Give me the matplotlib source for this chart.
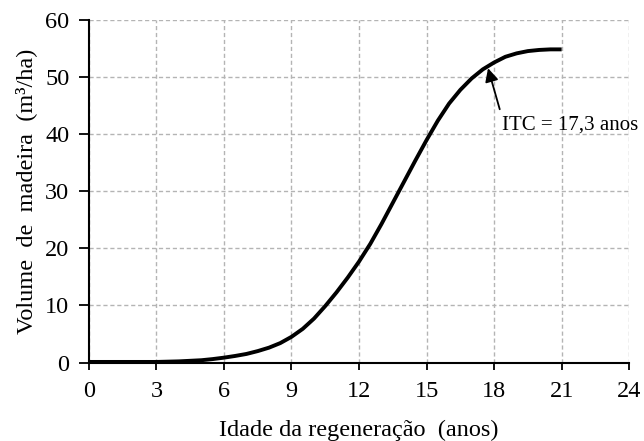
import matplotlib.pyplot as plt

plt.rcParams['font.family'] = ['Liberation Serif', 'DejaVu Serif']

# idade (anos) e volume (m3/ha) da regeneração
idade = [0, 1, 2, 3, 4, 5, 5.5, 6, 6.5, 7, 7.5, 8, 8.5, 9, 9.5, 10, 10.5, 11, 11.5,
         12, 12.5, 13, 13.5, 14, 14.5, 15, 15.5, 16, 16.5, 17, 17.5, 18, 18.5,
         19, 19.5, 20, 20.5, 21]
volume = [0.1, 0.1, 0.1, 0.1, 0.2, 0.4, 0.6, 0.85, 1.15, 1.5, 2.0, 2.6, 3.4, 4.5,
          5.9, 7.7, 9.9, 12.3, 14.9, 17.7, 20.8, 24.3, 28.0, 31.7, 35.4, 39.0,
          42.4, 45.4, 47.8, 49.8, 51.4, 52.6, 53.6, 54.2, 54.6, 54.8, 54.9, 54.9]

# ponto da idade técnica de corte
itc_x, itc_y = 17.73, 51.6
itc_label = "ITC = 17,3 anos"

x_ticks = [0, 3, 6, 9, 12, 15, 18, 21, 24]
y_ticks = [0, 10, 20, 30, 40, 50, 60]

fig = plt.figure(figsize=(6.44, 4.41), dpi=100)
ax = fig.add_axes([0.138, 0.178, 0.839, 0.776])

ax.plot(idade, volume, color='black', lw=2.8, solid_capstyle='butt',
        solid_joinstyle='round', zorder=3)

ax.annotate('', xy=(itc_x, itc_y), xytext=(18.25, 44.4),
            arrowprops=dict(arrowstyle='-|>', color='black', lw=1.3,
                            mutation_scale=20, shrinkA=0, shrinkB=0),
            zorder=4)
ax.text(18.35, 41.6, itc_label, fontsize=15, ha='left', va='center', clip_on=False)

ax.set_xlim(0, 24)
ax.set_ylim(0, 60)
ax.set_xticks(x_ticks)
ax.set_yticks(y_ticks)
ax.tick_params(labelsize=17.5, direction='out', width=1.3, color='black')
ax.tick_params(axis='x', length=5, pad=8)
ax.tick_params(axis='y', length=7, pad=7)

ax.grid(True, color='#b4b4b4', linestyle=(0, (3, 2)), linewidth=1.0)
ax.set_axisbelow(True)
for side in ['top', 'right']:
    ax.spines[side].set_visible(False)
for side in ['left', 'bottom']:
    ax.spines[side].set_linewidth(1.5)

ax.set_xlabel("Idade da regeneração  (anos)", fontsize=17.5, labelpad=13)
ax.set_ylabel("Volume  de  madeira  (m³/ha)", fontsize=17.5, labelpad=6)

fig.savefig('out.png', dpi=100)
